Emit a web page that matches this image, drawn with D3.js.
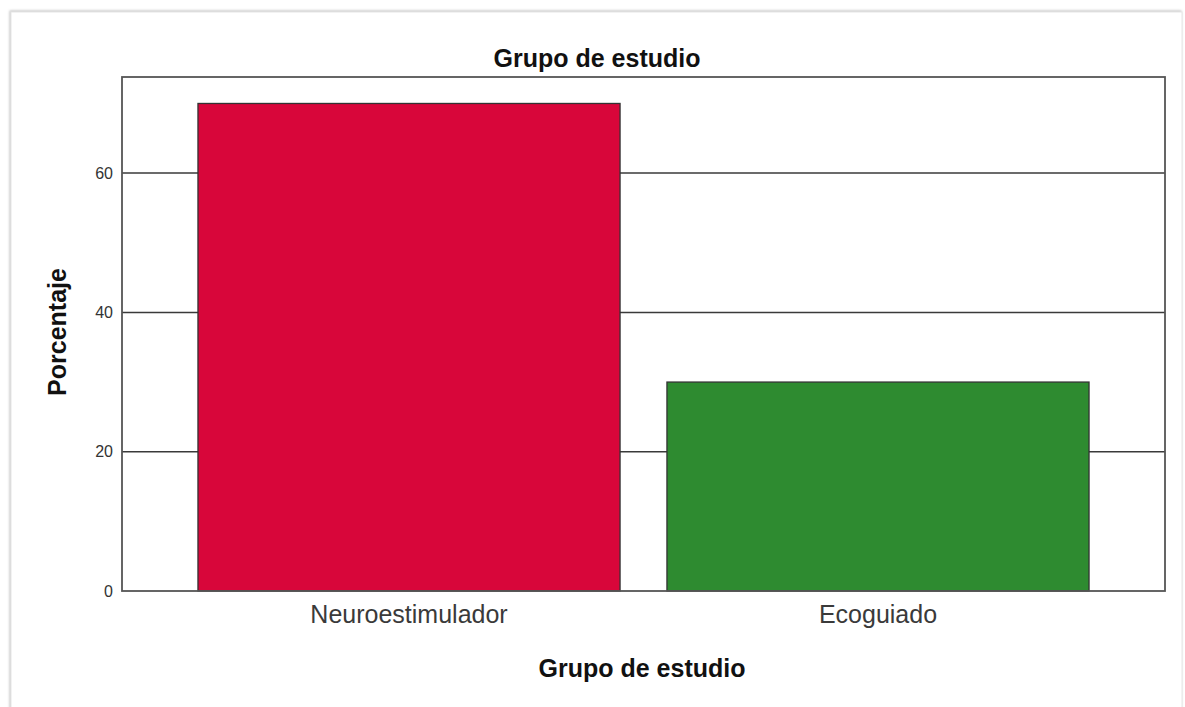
<!DOCTYPE html>
<html>
<head>
<meta charset="utf-8">
<script src="https://cdn.jsdelivr.net/npm/d3@7"></script>
<style>
  html, body { margin: 0; padding: 0; background: #fff; }
  svg { display: block; font-family: "Liberation Sans", Arial, sans-serif; }
</style>
</head>
<body>
<svg id="chart" width="1185" height="707"></svg>
<script>
const categories = ["Neuroestimulador", "Ecoguiado"];
const percentages = [70, 30];
const barColors = ["#D8063A", "#2E8B30"];
const yTicks = [0, 20, 40, 60];
const chartTitle = "Grupo de estudio";
const xTitle = "Grupo de estudio";
const yTitle = "Porcentaje";

const svg = d3.select("#chart");

// card
const defs = svg.append("defs");
const f = defs.append("filter").attr("id", "sh").attr("x", "-2%").attr("y", "-2%").attr("width", "104%").attr("height", "104%");
f.append("feDropShadow").attr("dx", -1).attr("dy", -1).attr("stdDeviation", 1.2).attr("flood-color", "#999").attr("flood-opacity", 0.6);
svg.append("rect").attr("x", 11).attr("y", 12).attr("width", 1171).attr("height", 700)
  .attr("fill", "#fff").attr("stroke", "#e6e6e6").attr("filter", "url(#sh)");

const m = { left: 122, top: 77, right: 1165, bottom: 591 };

const x = d3.scaleBand().domain(categories).range([m.left, m.right])
  .paddingInner(0.1).paddingOuter(0.162);
const y = d3.scaleLinear().domain([0, 73.8]).range([m.bottom, m.top]);

// gridlines
svg.append("g").selectAll("line").data(yTicks.filter(d => d > 0)).join("line")
  .attr("x1", m.left).attr("x2", m.right)
  .attr("y1", d => y(d)).attr("y2", d => y(d))
  .attr("stroke", "#3a3a3a").attr("stroke-width", 1.5);

// bars
svg.append("g").selectAll("rect").data(categories).join("rect")
  .attr("x", d => x(d)).attr("width", x.bandwidth())
  .attr("y", (d, i) => y(percentages[i]))
  .attr("height", (d, i) => y(0) - y(percentages[i]))
  .attr("fill", (d, i) => barColors[i])
  .attr("stroke", "#333").attr("stroke-width", 1.3);

// frame
svg.append("rect").attr("x", m.left).attr("y", m.top)
  .attr("width", m.right - m.left).attr("height", m.bottom - m.top)
  .attr("fill", "none").attr("stroke", "#555").attr("stroke-width", 1.8);

// y axis
const yAxis = d3.axisLeft(y).tickValues(yTicks).tickSize(0).tickPadding(9).tickFormat(d3.format("d"));
const gy = svg.append("g").attr("transform", `translate(${m.left},0)`).call(yAxis);
gy.select(".domain").remove();
gy.selectAll("text").attr("font-size", 16).attr("fill", "#333")
  .attr("font-family", "'Liberation Sans', Arial, sans-serif");

// x axis
const xAxis = d3.axisBottom(x).tickSize(0).tickPadding(14);
const gx = svg.append("g").attr("transform", `translate(0,${m.bottom})`).call(xAxis);
gx.select(".domain").remove();
gx.selectAll("text").attr("font-size", 25).attr("fill", "#3a3a3a")
  .attr("font-family", "'Liberation Sans', Arial, sans-serif");

// titles
svg.append("text").attr("x", 597).attr("y", 67)
  .attr("text-anchor", "middle").attr("font-size", 25).attr("font-weight", "bold")
  .attr("fill", "#111").text(chartTitle);
svg.append("text").attr("x", 642).attr("y", 677)
  .attr("text-anchor", "middle").attr("font-size", 25).attr("font-weight", "bold")
  .attr("fill", "#111").text(xTitle);
svg.append("text").attr("transform", "translate(66,332) rotate(-90)")
  .attr("text-anchor", "middle").attr("font-size", 25).attr("font-weight", "bold")
  .attr("fill", "#111").text(yTitle);
</script>
</body>
</html>
